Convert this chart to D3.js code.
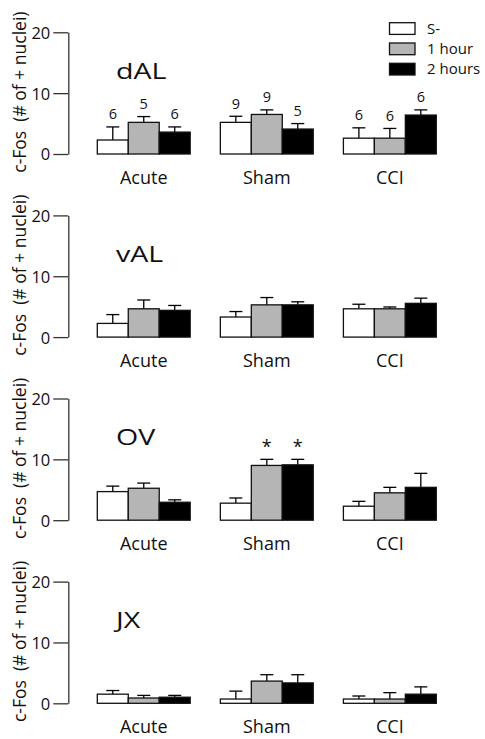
<!DOCTYPE html>
<html><head><meta charset="utf-8">
<script src="https://cdn.jsdelivr.net/npm/d3@7"></script>
<style>body{margin:0;background:#fff}svg{display:block}text{font-family:"Open Sans",sans-serif;fill:#111}</style>
</head><body><svg id="c" width="485" height="739"></svg>
<script>
const categories = ["Acute","Sham","CCI"];
const series = ["S-","1 hour","2 hours"];
const regions = ["dAL","vAL","OV","JX"];
const yTicks = [0,10,20];
// values ordered: Acute(S-,1h,2h), Sham(...), CCI(...)
const dAL_mean = [2.3,5.2,3.6, 5.2,6.5,4.1, 2.6,2.6,6.4];
const dAL_sem  = [2.15,0.95,0.85, 1.0,0.75,0.9, 1.7,1.6,0.85];
const dAL_n    = [6,5,6, 9,9,5, 6,6,6];
const vAL_mean = [2.25,4.65,4.4, 3.3,5.3,5.3, 4.65,4.65,5.55];
const vAL_sem  = [1.45,1.45,0.8, 0.9,1.2,0.5, 0.75,0.3,0.85];
const OV_mean  = [4.7,5.25,2.95, 2.8,9.0,9.1, 2.3,4.5,5.4];
const OV_sem   = [0.9,0.85,0.4, 0.85,1.0,0.9, 0.8,0.9,2.3];
const OV_sig   = [0,0,0, 0,1,1, 0,0,0];
const JX_mean  = [1.5,0.87,1.0, 0.7,3.65,3.35, 0.7,0.7,1.5];
const JX_sem   = [0.6,0.43,0.3, 1.3,1.05,1.35, 0.5,1.05,1.2];
const fills = ["#ffffff","#b5b5b5","#000000"];

const panels = [
  {name:regions[0], mean:dAL_mean, sem:dAL_sem, n:dAL_n},
  {name:regions[1], mean:vAL_mean, sem:vAL_sem},
  {name:regions[2], mean:OV_mean, sem:OV_sem, sig:OV_sig},
  {name:regions[3], mean:JX_mean, sem:JX_sem}
];

const svg = d3.select("#c");
const x0 = d3.scaleBand().domain(categories).range([97.3,436.3]).paddingInner(0.245).paddingOuter(0);
const x1 = d3.scaleBand().domain(series).range([0,x0.bandwidth()]).padding(0);
const axisX = 68.3;

panels.forEach((p,i)=>{
  const top = 32.3 + i*183.1;
  const bottom = top + 121.7;
  const y = d3.scaleLinear().domain([0,20]).range([bottom,top]);
  const g = svg.append("g");
  const ax = g.append("g").attr("transform",`translate(${axisX},0)`)
    .call(d3.axisLeft(y).tickValues(yTicks).tickSize(15).tickSizeOuter(0).tickPadding(3));
  ax.select(".domain").attr("stroke","#333").attr("stroke-width",1.3);
  ax.selectAll(".tick line").attr("stroke","#333").attr("stroke-width",1.3);
  ax.selectAll(".tick text").style("font-size","16.5px").attr("fill","#111").attr("dy","0.36em");
  g.append("text").attr("transform",`translate(26,${(top+bottom)/2 - 1}) rotate(-90)`)
    .attr("text-anchor","middle").style("font-size","17.5px").style("white-space","pre")
    .text("c-Fos  (# of + nuclei)");
  g.append("text").attr("transform",`translate(116,${y(0)-75.5}) scale(1.3,1)`)
    .style("font-size","22px").text(p.name);
  const data = [];
  categories.forEach((c,ci)=>series.forEach((s,si)=>{
    const k = ci*3+si;
    data.push({c,s,si,m:p.mean[k],e:p.sem[k],n:p.n?p.n[k]:null,sig:p.sig?p.sig[k]:0});
  }));
  const bx = d=>x0(d.c)+x1(d.s);
  const cx = d=>bx(d)+x1.bandwidth()/2;
  g.selectAll(".eb").data(data).join("line")
    .attr("x1",cx).attr("x2",cx).attr("y1",d=>y(d.m)).attr("y2",d=>y(d.m+d.e))
    .attr("stroke","#000").attr("stroke-width",1.3);
  g.selectAll(".cap").data(data).join("line")
    .attr("x1",d=>cx(d)-6.5).attr("x2",d=>cx(d)+6.5).attr("y1",d=>y(d.m+d.e)).attr("y2",d=>y(d.m+d.e))
    .attr("stroke","#000").attr("stroke-width",1.3);
  g.selectAll(".bar").data(data).join("rect")
    .attr("x",bx).attr("width",x1.bandwidth()).attr("y",d=>y(d.m)).attr("height",d=>y(0)-y(d.m))
    .attr("fill",d=>fills[d.si]).attr("stroke","#111").attr("stroke-width",1.3);
  g.selectAll(".nl").data(data.filter(d=>d.n!=null)).join("text")
    .attr("x",cx).attr("y",d=>y(d.m+d.e)-7.5).attr("text-anchor","middle").style("font-size","14.5px").text(d=>d.n);
  g.selectAll(".sg").data(data.filter(d=>d.sig)).join("text")
    .attr("x",cx).attr("y",d=>y(d.m+d.e)-6).attr("text-anchor","middle").style("font-size","18px").text("*");
  g.selectAll(".cl").data(categories).join("text")
    .attr("x",c=>x0(c)+x0.bandwidth()/2).attr("y",y(0)+29.5).attr("text-anchor","middle")
    .style("font-size","18px").text(c=>c);
});

const lg = svg.append("g");
series.forEach((s,i)=>{
  const yy = 22.7 + i*20.3;
  lg.append("rect").attr("x",389.5).attr("y",yy).attr("width",25.5).attr("height",11.7)
    .attr("fill",fills[i]).attr("stroke","#111").attr("stroke-width",1.3);
  lg.append("text").attr("x",427).attr("y",yy+11).style("font-size","15px").text(s);
});
</script></body></html>
